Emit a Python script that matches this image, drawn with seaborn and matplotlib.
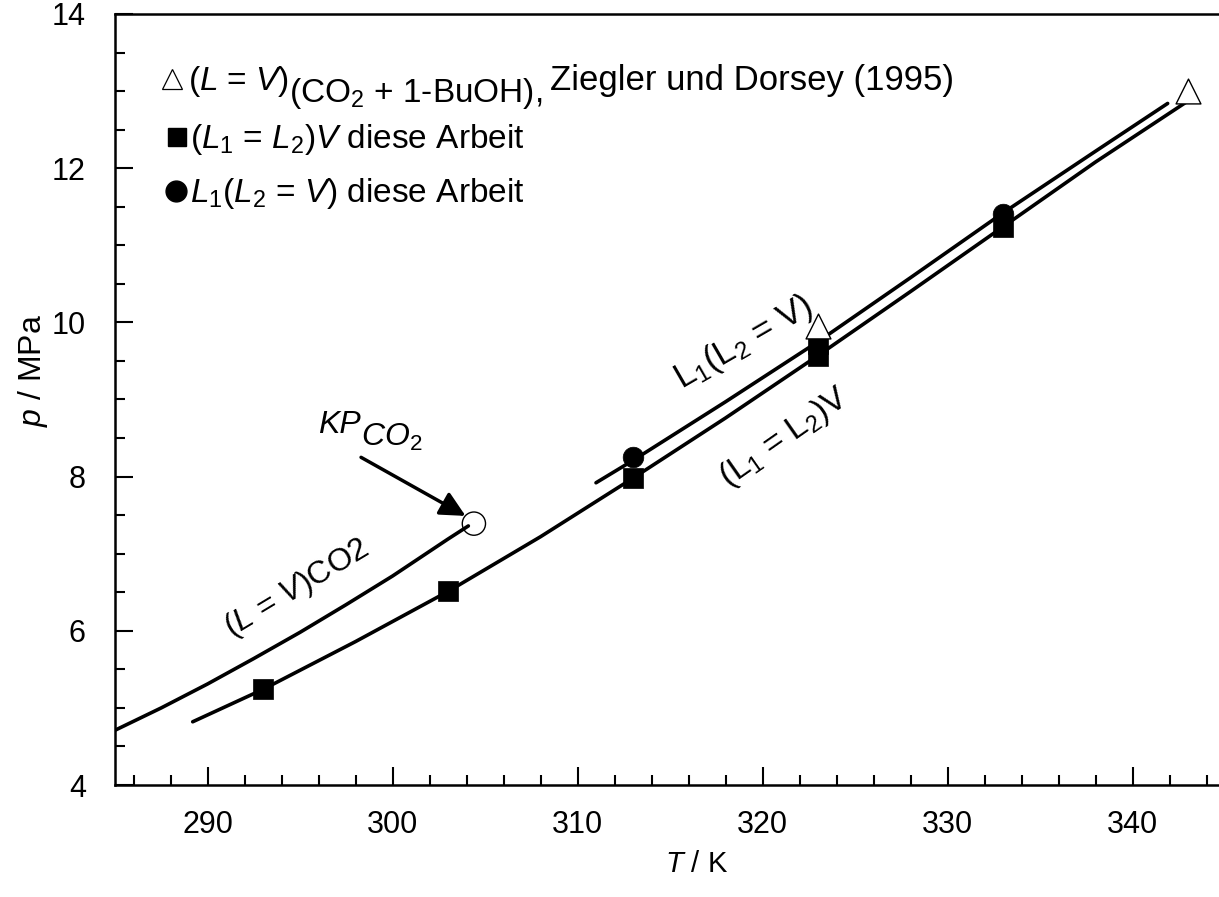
import matplotlib
matplotlib.use("Agg")
import matplotlib.pyplot as plt
import seaborn as sns
import pandas as pd
from matplotlib.ticker import MultipleLocator

# ---------------- data ----------------
co2_T = [285.0, 287.5, 290.0, 292.5, 295.0, 297.5, 300.0, 302.0, 303.0, 304.1]   # (L = V) CO2
co2_p = [4.71, 5.00, 5.31, 5.64, 5.98, 6.34, 6.71, 7.03, 7.19, 7.36]
lle_T = [289.2, 293, 298, 303, 308, 313, 318, 323, 328, 333, 338, 343.3]         # (L1 = L2)V
lle_p = [4.82, 5.24, 5.86, 6.51, 7.22, 7.98, 8.76, 9.57, 10.40, 11.24, 12.08, 12.92]
lv_T = [311.0, 313, 318, 323, 328, 333, 338, 341.9]                              # L1(L2 = V)
lv_p = [7.92, 8.21, 8.97, 9.75, 10.58, 11.42, 12.22, 12.84]
zd_T = [323, 343]                                            # Ziegler & Dorsey
zd_p = [9.95, 13.0]
sq_T = [293, 303, 313, 323, 323, 333]                        # squares, this work
sq_p = [5.24, 6.51, 7.98, 9.57, 9.72, 11.24]
ci_T = [313, 333]                                            # circles, this work
ci_p = [8.25, 11.41]
kp_T = [304.4]                                               # critical point CO2
kp_p = [7.39]

x_major = [290, 300, 310, 320, 330, 340]
y_major = [4, 6, 8, 10, 12, 14]

# ---------------- style ----------------
sns.set_theme(style="ticks")
plt.rcParams["font.family"] = ["Liberation Sans", "DejaVu Sans"]
plt.rcParams["mathtext.fontset"] = "custom"
plt.rcParams["mathtext.rm"] = "Liberation Sans"
plt.rcParams["mathtext.it"] = "Liberation Sans:italic"
plt.rcParams["mathtext.bf"] = "Liberation Sans:bold"
for k in ["text.color", "axes.labelcolor", "xtick.color", "ytick.color", "axes.edgecolor"]:
    plt.rcParams[k] = "black"

W, H = 1219, 897
fig = plt.figure(figsize=(W / 100, H / 100), dpi=100)
AX_L, AX_R, AX_T, AX_B = 115, 1225, 14, 785
ax = fig.add_axes([AX_L / W, (H - AX_B) / H, (AX_R - AX_L) / W, (AX_B - AX_T) / H])

def pa(xp, yp):
    """pixel position -> axes fraction"""
    return (xp - AX_L) / (AX_R - AX_L), (AX_B - yp) / (AX_B - AX_T)

lw = 2.6
for T, p in [(co2_T, co2_p), (lle_T, lle_p), (lv_T, lv_p)]:
    df = pd.DataFrame({"T": T, "p": p})
    sns.lineplot(data=df, x="T", y="p", ax=ax, color="black", lw=lw,
                 estimator=None, sort=False, zorder=2)

sns.scatterplot(x=sq_T, y=sq_p, ax=ax, marker="s", s=200, color="black",
                edgecolor="black", linewidth=0.5, zorder=4)
sns.scatterplot(x=ci_T, y=ci_p, ax=ax, marker="o", s=220, color="black",
                edgecolor="black", linewidth=0.5, zorder=4)
sns.scatterplot(x=zd_T, y=zd_p, ax=ax, marker="^", s=320, facecolor="white",
                edgecolor="black", linewidth=1.0, zorder=5)
sns.scatterplot(x=kp_T, y=kp_p, ax=ax, marker="o", s=280, facecolor="none",
                edgecolor="black", linewidth=1.0, zorder=5)

ax.set_xlim(285, 345)
ax.set_ylim(4, 14)
ax.set_xticks(x_major)
ax.set_yticks(y_major)
ax.xaxis.set_minor_locator(MultipleLocator(2))
ax.yaxis.set_minor_locator(MultipleLocator(0.5))
ax.tick_params(which="both", direction="in", top=False, right=False,
               colors="black", width=1.5)
ax.tick_params(which="major", length=13, labelsize=22)
ax.tick_params(axis="x", which="major", pad=18)
ax.tick_params(axis="y", which="major", pad=21)
ax.tick_params(which="minor", length=7)
for s in ["left", "bottom", "top"]:
    ax.spines[s].set_linewidth(1.8)
    ax.spines[s].set_color("black")
ax.spines["right"].set_visible(False)

ax.set_xlabel(r"$\mathit{T}$ / K", fontsize=21)
ax.set_ylabel(r"$\mathit{p}$ / MPa", fontsize=23)
ax.xaxis.set_label_coords(*pa(697, 850))
ax.yaxis.set_label_coords(*pa(50, 370))

# ---------------- arrow to critical point ----------------
ax.annotate("", xy=(303.95, 7.49), xytext=(298.3, 8.25),
            arrowprops=dict(arrowstyle="-|>", lw=2.5, color="black",
                            mutation_scale=38, shrinkA=0, shrinkB=0))

fig.canvas.draw()
renderer = fig.canvas.get_renderer()

def chain(prev, s, dx_px, dy_px, **kw):
    bb = prev.get_window_extent(renderer)
    x0, y0 = prev.get_transform().transform(prev.get_position())
    xn, yn = ax.transAxes.inverted().transform((bb.x1 + dx_px, y0 + dy_px))
    t = ax.text(xn, yn, s, transform=ax.transAxes, va="baseline", ha="left", **kw)
    fig.canvas.draw()
    return t

# KP label
kp1 = ax.text(*pa(318, 433), "KP", transform=ax.transAxes, fontsize=23,
              style="italic", va="baseline")
fig.canvas.draw()
chain(kp1, r"CO$_{\mathit{2}}$", 0, -13, fontsize=23, style="italic")

# ---------------- legend block ----------------
FS = 24
ax.plot(*pa(172, 79), marker="^", ms=14, mfc="white", mec="black", mew=0.9,
        transform=ax.transAxes, clip_on=False)
ax.plot(*pa(177, 137), marker="s", ms=13, color="black",
        transform=ax.transAxes, clip_on=False)
ax.plot(*pa(176, 191), marker="o", ms=15, color="black",
        transform=ax.transAxes, clip_on=False)

r1 = ax.text(*pa(188, 90), r"($\mathit{L}$ = $\mathit{V}$)", transform=ax.transAxes,
             fontsize=FS, va="baseline")
fig.canvas.draw()
r1b = chain(r1, r"(CO$_2$ + 1-BuOH),", 0, -12, fontsize=FS)
chain(r1b, "Ziegler und Dorsey (1995)", 8, 12, fontsize=25)

ax.text(*pa(190, 148), r"($\mathit{L}_{\mathit{1}}$ = $\mathit{L}_{\mathit{2}}$)$\mathit{V}$ diese Arbeit",
        transform=ax.transAxes, fontsize=FS, va="baseline")
ax.text(*pa(190, 202), r"$\mathit{L}_{\mathit{1}}$($\mathit{L}_{\mathit{2}}$ = $\mathit{V}$) diese Arbeit",
        transform=ax.transAxes, fontsize=FS, va="baseline")

# ---------------- curve labels ----------------
ax.text(*pa(297, 588), r"($\mathit{L}$ = $\mathit{V}$)CO2", transform=ax.transAxes,
        fontsize=23, rotation=31, ha="center", va="center", rotation_mode="anchor")
ax.text(*pa(743, 342), r"L$_1$(L$_2$ = V)", transform=ax.transAxes,
        fontsize=25, rotation=30, ha="center", va="center", rotation_mode="anchor")
ax.text(*pa(784, 438), r"(L$_1$ = L$_2$)V", transform=ax.transAxes,
        fontsize=24, rotation=35, ha="center", va="center", rotation_mode="anchor")

fig.savefig("out.png", dpi=100, facecolor="white")
